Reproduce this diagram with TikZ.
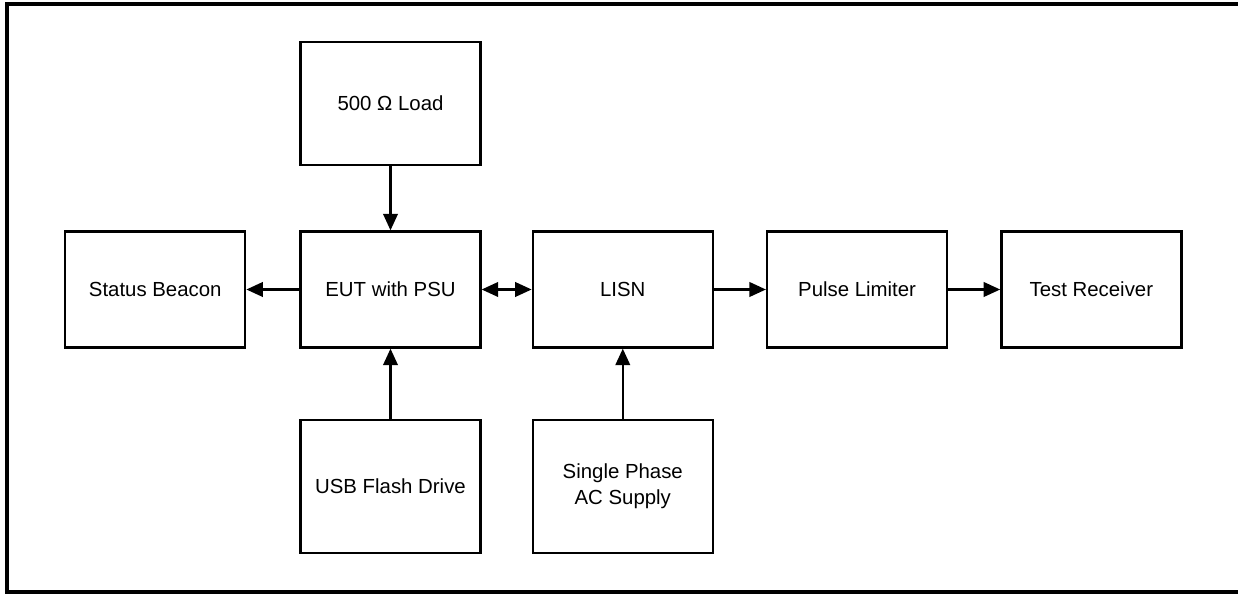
\documentclass[tikz,border=0pt]{standalone}
\usepackage{fontspec}
\setmainfont{Liberation Sans}
\usepackage{tikz}
\usetikzlibrary{arrows.meta,positioning}

\begin{document}
\begin{tikzpicture}[
  box/.style={rectangle, draw=black, line width=1.3pt, minimum width=3.6cm,
              minimum height=2.32cm, align=center,
              font=\fontsize{11.6}{14.8}\selectfont},
  tip/.tip={Triangle[length=0.33cm,width=0.29cm]},
  arr/.style={-tip, line width=1.3pt},
  darr/.style={tip-tip, line width=1.3pt},
]
\useasboundingbox (0,0) rectangle (24.76,11.86);
\draw[line width=0.08cm] (0.14,0.02) rectangle (24.84,11.78);

\node[box] (eut) at (7.81,6.07) {EUT with PSU};
\node[box, minimum height=2.46cm, above=1.28cm of eut] (load) {500 Ω Load};
\node[box, left=1.06cm of eut]  (beacon) {Status Beacon};
\node[box, right=1.0cm of eut] (lisn)   {LISN};
\node[box, right=1.04cm of lisn] (limiter) {Pulse Limiter};
\node[box, right=1.04cm of limiter] (rx) {Test Receiver};
\node[box, minimum height=2.66cm, below=1.4cm of eut]  (usb) {USB Flash Drive};
\node[box, minimum height=2.66cm, below=1.4cm of lisn] (mains) {Single Phase\\AC Supply};

\draw[arr]  (load)    -- (eut);
\draw[arr]  (eut)     -- (beacon);
\draw[darr] (eut)     -- (lisn);
\draw[arr]  (lisn)    -- (limiter);
\draw[arr]  (limiter) -- (rx);
\draw[arr]  (usb)     -- (eut);
\draw[arr]  (mains)   -- (lisn);
\end{tikzpicture}
\end{document}
